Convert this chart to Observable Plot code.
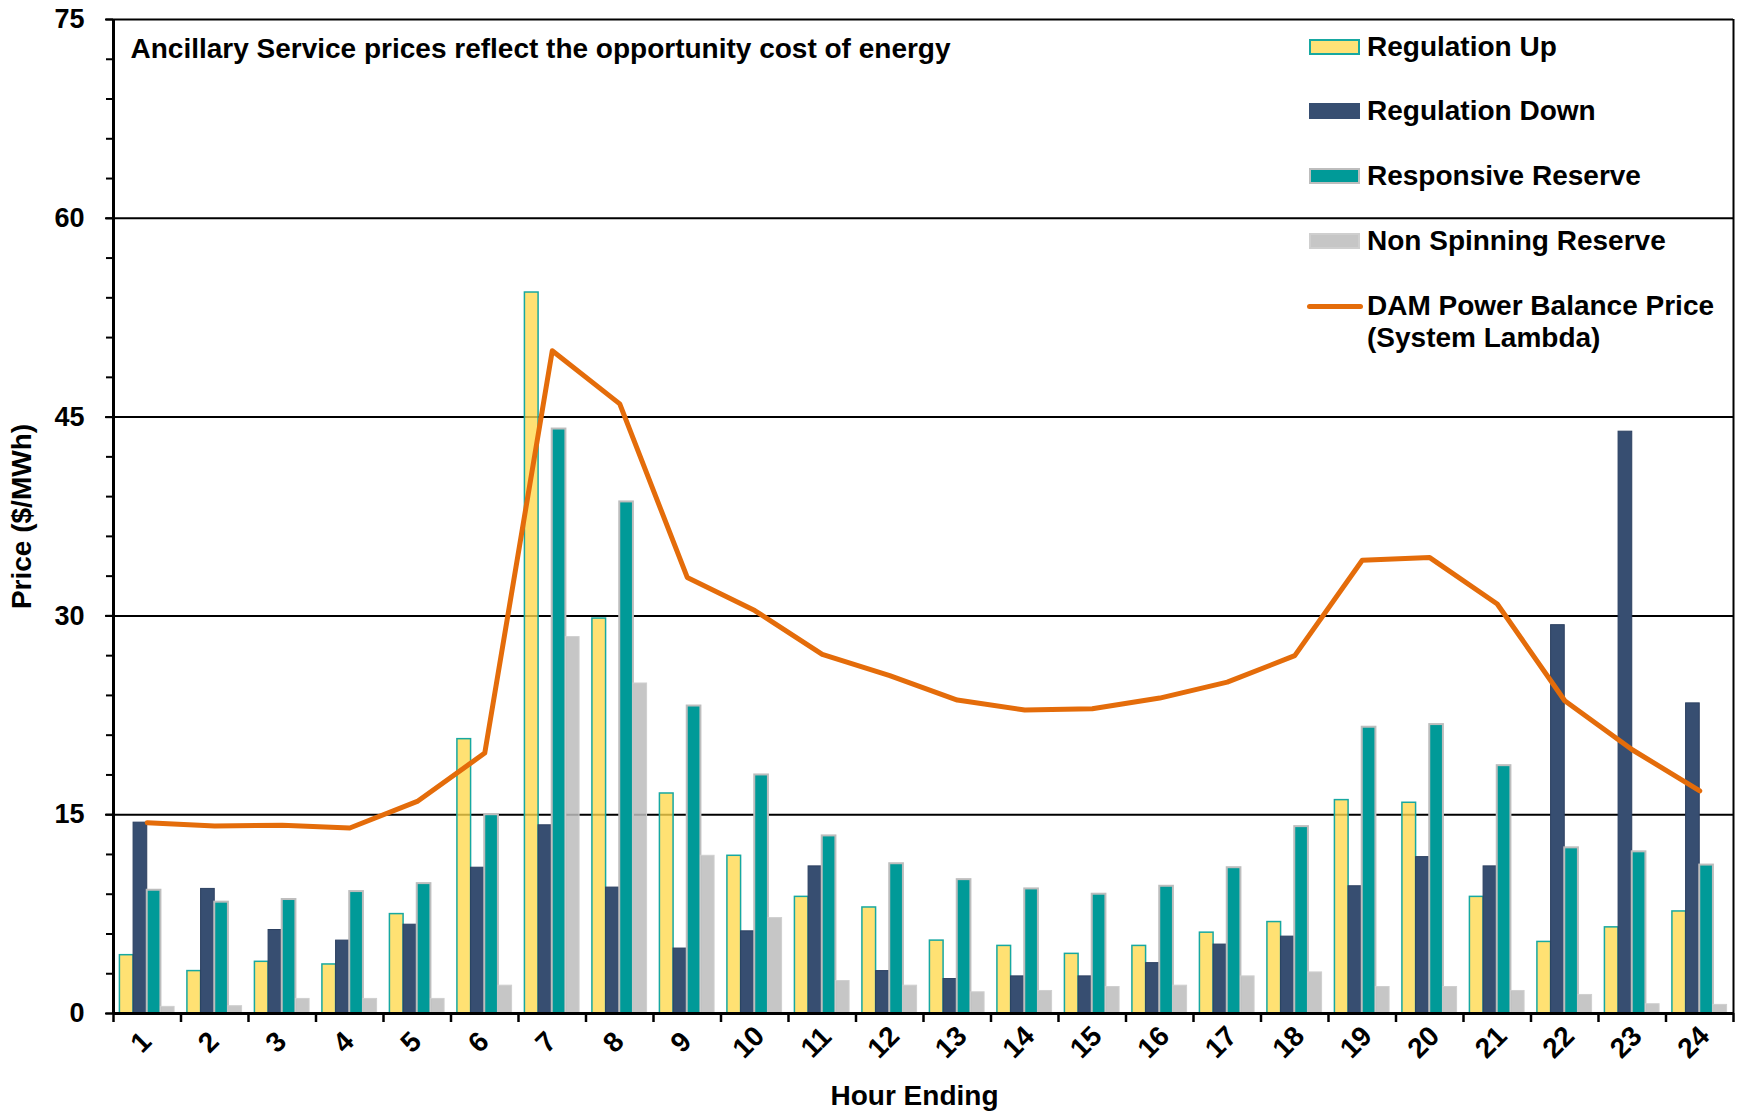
<!DOCTYPE html>
<html>
<head>
<meta charset="utf-8">
<script src="https://cdn.jsdelivr.net/npm/d3@7"></script>
<script src="https://cdn.jsdelivr.net/npm/@observablehq/plot@0.6"></script>
<style>
  html, body { margin: 0; padding: 0; background: white; }
  #wrap { position: relative; width: 1740px; height: 1111px; font-family: "Liberation Sans", Arial, sans-serif; }
  #legend { position: absolute; left: 0; top: 0; width: 0; height: 0; }
  .lg-sw { position: absolute; box-sizing: border-box; }
  .lg-tx { position: absolute; font-weight: bold; font-size: 28px; line-height: 32px; color: #000; white-space: nowrap; }
</style>
</head>
<body>
<div id="wrap"><div id="legend"></div></div>
<script>
// ---- Data ----
const hours = [1,2,3,4,5,6,7,8,9,10,11,12,13,14,15,16,17,18,19,20,21,22,23,24];
const regulationUp = [4.4, 3.2, 3.9, 3.7, 7.5, 20.7, 54.4, 29.8, 16.6, 11.9, 8.8, 8.0, 5.5, 5.1, 4.5, 5.1, 6.1, 6.9, 16.1, 15.9, 8.8, 5.4, 6.5, 7.7];
const regulationDown = [14.4, 9.4, 6.3, 5.5, 6.7, 11.0, 14.2, 9.5, 4.9, 6.2, 11.1, 3.2, 2.6, 2.8, 2.8, 3.8, 5.2, 5.8, 9.6, 11.8, 11.1, 29.3, 43.9, 23.4];
const responsiveReserve = [9.3, 8.4, 8.6, 9.2, 9.8, 15.0, 44.1, 38.6, 23.2, 18.0, 13.4, 11.3, 10.1, 9.4, 9.0, 9.6, 11.0, 14.1, 21.6, 21.8, 18.7, 12.5, 12.2, 11.2];
const nonSpinningReserve = [0.5, 0.55, 1.1, 1.1, 1.1, 2.1, 28.4, 24.9, 11.9, 7.2, 2.45, 2.1, 1.6, 1.7, 2.0, 2.1, 2.8, 3.1, 2.0, 2.0, 1.7, 1.4, 0.7, 0.65];
const systemLambda = [14.4, 14.15, 14.2, 14.0, 16.0, 19.65, 50.0, 46.0, 32.9, 30.4, 27.1, 25.5, 23.65, 22.9, 23.0, 23.8, 25.0, 27.0, 34.2, 34.4, 30.9, 23.6, 19.9, 16.8];
const seriesNames = ["Regulation Up", "Regulation Down", "Responsive Reserve", "Non Spinning Reserve", "DAM Power Balance Price\n(System Lambda)"];
const yMajorTicks = [0, 15, 30, 45, 60, 75];
const yMinorTicks = [0,3,6,9,12,15,18,21,24,27,30,33,36,39,42,45,48,51,54,57,60,63,66,69,72,75];
const gridValues = [15, 30, 45, 60, 75];
const annotation = "Ancillary Service prices reflect the opportunity cost of energy";
const yLabel = "Price ($/MWh)";
const xLabel = "Hour Ending";

// ---- Styles ----
const styles = [
  {fill: "#FFD94C", stroke: "#17A8A1", strokeWidth: 1.5, opacity: 0.78},
  {fill: "#374E71", stroke: "#2C4061", strokeWidth: 1, opacity: 1},
  {fill: "#009A98", stroke: "#BDBDBD", strokeWidth: 2, opacity: 1},
  {fill: "#BCBCBC", stroke: "#CFCFCF", strokeWidth: 1, opacity: 0.85}
];
const legendFill = ["#FFE277", "#374E71", "#009A98", "#C6C6C6"];
const lineColor = "#E46C0A";
const pad = 0.095, bw = 0.2025;
const font = "'Liberation Sans', Arial, sans-serif";

function bars(values, k) {
  return Plot.rect(hours, {
    x1: h => h - 0.5 + pad + k * bw,
    x2: h => h - 0.5 + pad + (k + 1) * bw,
    y1: 0,
    y2: (h, i) => values[i],
    fill: styles[k].fill,
    fillOpacity: styles[k].opacity,
    stroke: styles[k].stroke,
    strokeWidth: styles[k].strokeWidth
  });
}

const boundaries = d3.range(0.5, 25, 1);

const chart = Plot.plot({
  width: 1740,
  height: 1111,
  marginLeft: 113,
  marginRight: 7,
  marginTop: 19,
  marginBottom: 98,
  x: {type: "linear", domain: [0.5, 24.5]},
  y: {domain: [0, 75]},
  style: {fontFamily: font, background: "white", color: "black", overflow: "visible"},
  marks: [
    Plot.ruleY(gridValues, {stroke: "black", strokeWidth: 2}),
    bars(regulationUp, 0),
    bars(regulationDown, 1),
    bars(responsiveReserve, 2),
    bars(nonSpinningReserve, 3),
    Plot.ruleX([24.5], {stroke: "black", strokeWidth: 2}),
    Plot.ruleX([0.5], {stroke: "black", strokeWidth: 3}),
    Plot.ruleY([0], {stroke: "black", strokeWidth: 3}),
    Plot.lineY(hours, {x: h => h, y: (h, i) => systemLambda[i], stroke: lineColor, strokeWidth: 5, strokeLinejoin: "round", strokeLinecap: "round"}),
    Plot.axisY({ticks: yMinorTicks, tickSize: 7, tickFormat: () => "", strokeWidth: 2, label: null}),
    Plot.axisY({ticks: yMajorTicks, tickSize: 8, tickPadding: 21, strokeWidth: 2, fontSize: 27, fontWeight: "bold", label: null}),
    Plot.axisX({ticks: boundaries, tickSize: 9, tickFormat: () => "", strokeWidth: 2.5, label: null}),
    Plot.axisX({ticks: hours, tickSize: 0, tickPadding: 29, tickRotate: -45, textAnchor: "middle", dx: -6,
      fontSize: 28, fontWeight: "bold", tickFormat: d => String(d), label: null}),
    Plot.text([yLabel], {frameAnchor: "left", dx: -91, rotate: -90, textAnchor: "middle", lineAnchor: "middle", fontSize: 28, fontWeight: "bold", fill: "black"}),
    Plot.text([xLabel], {frameAnchor: "bottom", dx: -9, dy: 83, textAnchor: "middle", lineAnchor: "middle", fontSize: 28, fontWeight: "bold", fill: "black"}),
    Plot.text([annotation], {frameAnchor: "top-left", dx: 17, dy: 30, textAnchor: "start", lineAnchor: "middle", fontSize: 28, fontWeight: "bold", fill: "black"})
  ]
});
document.getElementById("wrap").prepend(chart);

// ---- Legend (overlay inside plot area) ----
const legend = document.getElementById("legend");
const rowY = [47, 111, 176, 241, 306];
seriesNames.forEach((name, i) => {
  const sw = document.createElement("div");
  sw.className = "lg-sw";
  if (i < 4) {
    const s = styles[i];
    Object.assign(sw.style, {left: "1309px", top: (rowY[i] - 8) + "px", width: "51px", height: "16px",
      background: legendFill[i], border: (i === 1 ? 0 : 2) + "px solid " + s.stroke});
  } else {
    Object.assign(sw.style, {left: "1307px", top: (rowY[i] - 2.5) + "px", width: "56px", height: "5px",
      background: lineColor, borderRadius: "3px"});
  }
  legend.appendChild(sw);
  name.split("\n").forEach((line, j) => {
    const tx = document.createElement("div");
    tx.className = "lg-tx";
    tx.textContent = line;
    Object.assign(tx.style, {left: "1367px", top: (rowY[i] - 16 + j * 32) + "px"});
    legend.appendChild(tx);
  });
});
</script>
</body>
</html>
